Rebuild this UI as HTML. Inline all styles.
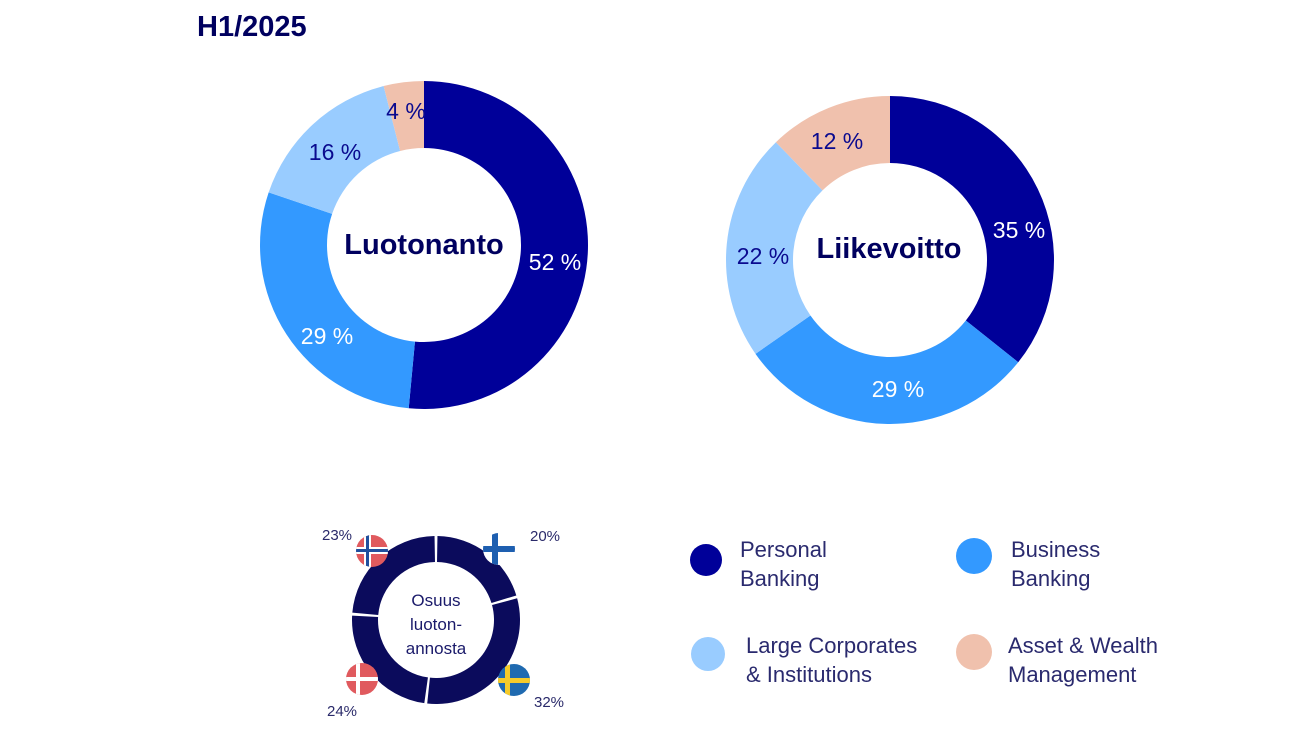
<!DOCTYPE html>
<html><head><meta charset="utf-8"><style>
html,body{margin:0;padding:0;background:#fff;width:1300px;height:731px;overflow:hidden}
svg text{font-family:"Liberation Sans",sans-serif}
</style></head><body>
<svg id="s" width="1300" height="731" viewBox="0 0 1300 731" xmlns="http://www.w3.org/2000/svg">
<text x="197" y="36" font-size="29" font-weight="bold" fill="#00005f">H1/2025</text>
<g id="arcs"></g>
<text x="424" y="254" font-size="29" font-weight="bold" fill="#00005f" text-anchor="middle">Luotonanto</text>
<text x="555" y="270" font-size="23" fill="#fff" text-anchor="middle">52 %</text>
<text x="327" y="344" font-size="23" fill="#fff" text-anchor="middle">29 %</text>
<text x="335" y="160" font-size="23" fill="#0a0a8f" text-anchor="middle">16 %</text>
<text x="406" y="119" font-size="23" fill="#0a0a8f" text-anchor="middle">4 %</text>
<text x="889" y="258" font-size="29" font-weight="bold" fill="#00005f" text-anchor="middle">Liikevoitto</text>
<text x="1019" y="238" font-size="23" fill="#fff" text-anchor="middle">35 %</text>
<text x="898" y="397" font-size="23" fill="#fff" text-anchor="middle">29 %</text>
<text x="763" y="264" font-size="23" fill="#0a0a8f" text-anchor="middle">22 %</text>
<text x="837" y="149" font-size="23" fill="#0a0a8f" text-anchor="middle">12 %</text>
<text font-size="17" fill="#1a1a6a" text-anchor="middle"><tspan x="436" y="606">Osuus</tspan><tspan x="436" y="630">luoton-</tspan><tspan x="436" y="654">annosta</tspan></text>
<text x="337" y="540" font-size="15" fill="#2a2a6a" text-anchor="middle">23%</text>
<text x="545" y="541" font-size="15" fill="#2a2a6a" text-anchor="middle">20%</text>
<text x="342" y="716" font-size="15" fill="#2a2a6a" text-anchor="middle">24%</text>
<text x="549" y="707" font-size="15" fill="#2a2a6a" text-anchor="middle">32%</text>
<defs>
<clipPath id="cno"><circle cx="372" cy="551" r="16"/></clipPath>
<clipPath id="cfi"><circle cx="499" cy="549" r="16"/></clipPath>
<clipPath id="cdk"><circle cx="362" cy="679" r="16"/></clipPath>
<clipPath id="cse"><circle cx="514" cy="680" r="16"/></clipPath>
</defs>
<g clip-path="url(#cno)"><rect x="356" y="535" width="32" height="32" fill="#e05a5e"/><rect x="364" y="535" width="7" height="32" fill="#fff"/><rect x="356" y="547" width="32" height="7" fill="#fff"/><rect x="366" y="535" width="3" height="32" fill="#1f4f9e"/><rect x="356" y="549" width="32" height="3" fill="#1f4f9e"/></g>
<g clip-path="url(#cfi)"><rect x="483" y="533" width="32" height="32" fill="#fff"/><rect x="492" y="533" width="6" height="32" fill="#1e5fb0"/><rect x="483" y="546" width="32" height="6" fill="#1e5fb0"/></g>
<g clip-path="url(#cdk)"><rect x="346" y="663" width="32" height="32" fill="#e05a5e"/><rect x="356" y="663" width="4" height="32" fill="#fff"/><rect x="346" y="677" width="32" height="4" fill="#fff"/></g>
<g clip-path="url(#cse)"><rect x="498" y="664" width="32" height="32" fill="#1f6ab0"/><rect x="505" y="664" width="5" height="32" fill="#f6cb2a"/><rect x="498" y="678" width="32" height="5" fill="#f6cb2a"/></g>
<circle cx="706" cy="560" r="16" fill="#000099"/>
<circle cx="974" cy="556" r="18" fill="#3399ff"/>
<circle cx="708" cy="654" r="17" fill="#99ccff"/>
<circle cx="974" cy="652" r="18" fill="#f0c1ad"/>
<g font-size="22" fill="#2a2a6e">
<text x="740" y="557">Personal</text><text x="740" y="586">Banking</text>
<text x="1011" y="557">Business</text><text x="1011" y="586">Banking</text>
<text x="746" y="653">Large Corporates</text><text x="746" y="682">&amp; Institutions</text>
<text x="1008" y="653">Asset &amp; Wealth</text><text x="1008" y="682">Management</text>
</g>
</svg>
<script>
function arc(cx,cy,R,r,a0,a1,fill){
  function p(rad,a){a=(a-90)*Math.PI/180;return [cx+rad*Math.cos(a),cy+rad*Math.sin(a)];}
  var l=(a1-a0)>180?1:0,A=p(R,a0),B=p(R,a1),C=p(r,a1),D=p(r,a0);
  return '<path d="M'+A+' A'+R+','+R+' 0 '+l+' 1 '+B+' L'+C+' A'+r+','+r+' 0 '+l+' 0 '+D+'Z" fill="'+fill+'"/>';
}
var cols=["#000099","#3399ff","#99ccff","#f0c1ad"],h="";
function donut(cx,cy,R,r,vals){var t=vals.reduce(function(a,b){return a+b}),a=0;
  vals.forEach(function(v,i){var b=a+v/t*360;h+=arc(cx,cy,R,r,a,b,cols[i]);a=b;});}
donut(424,245,164,97,[52,29,16,4]);
donut(890,260,164,97,[35,29,22,12]);
var segs=[[1,73],[75,186],[188,273],[275,359]];
segs.forEach(function(s){h+=arc(436,620,84,58,s[0],s[1],"#0b0b5c");});
document.getElementById("arcs").innerHTML=h;
</script>
</body></html>
